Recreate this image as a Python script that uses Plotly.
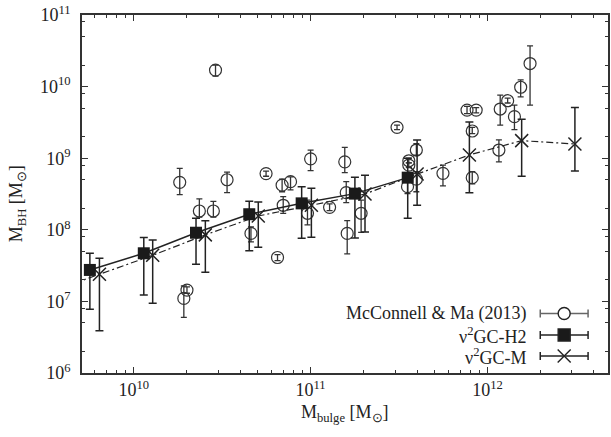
import numpy as np
import plotly.graph_objects as go

# McConnell & Ma (2013): bulge mass, BH mass, lower / upper error bounds
mm_x = [2.9e10, 1.82e10, 2.35e10, 2.82e10, 3.37e10, 5.6e10, 6.9e10, 7.7e10, 7.0e10, 1.0e11,
        9.6e10, 1.28e11, 1.92e10, 2.0e10, 4.6e10, 6.5e10, 1.56e11, 1.59e11, 1.93e11, 3.08e11,
        3.59e11, 3.59e11, 3.96e11, 3.53e11, 3.96e11, 5.6e11, 7.66e11, 8.63e11, 8.2e11, 8.2e11,
        1.16e12, 1.18e12, 1.3e12, 1.42e12, 1.54e12, 1.74e12, 1.61e11]
mm_y = [1.7e10, 4.6e8, 1.83e8, 1.83e8, 5.0e8, 6.1e8, 4.2e8, 4.7e8, 2.2e8, 9.8e8,
        1.7e8, 2.06e8, 1.1e7, 1.44e7, 8.9e7, 4.1e7, 8.9e8, 3.3e8, 1.7e8, 2.7e9,
        9.2e8, 8.0e8, 1.3e9, 4.0e8, 5.1e8, 6.15e8, 4.7e9, 4.7e9, 2.4e9, 5.35e8,
        1.3e9, 4.86e9, 6.35e9, 3.8e9, 9.8e9, 2.1e10, 8.9e7]
mm_lo = [1.4e10, 3.1e8, 1.5e8, 1.5e8, 3.3e8, 5.6e8, 3.4e8, 3.6e8, 1.7e8, 6.7e8,
         1.17e8, 1.85e8, 6.0e6, 1.3e7, 6.8e7, 3.7e7, 6.3e8, 2.4e8, 9.2e7, 2.5e9,
         8.6e8, 7.4e8, 1.1e9, 3.2e8, 3.4e8, 4.1e8, 4.2e9, 4.3e9, 2.2e9, 4.4e8,
         8.9e8, 2.9e9, 5.9e9, 2.5e9, 7.2e9, 5.5e9, 4.6e7]
mm_hi = [2.0e10, 7.2e8, 2.7e8, 2.5e8, 6.4e8, 6.6e8, 5.1e8, 5.5e8, 2.9e8, 1.3e9,
         2.6e8, 2.3e8, 1.64e7, 1.6e7, 1.1e8, 4.5e7, 1.42e9, 4.7e8, 2.6e8, 2.9e9,
         1.0e9, 8.6e8, 1.6e9, 5.0e8, 6.5e8, 8.0e8, 5.3e9, 5.1e9, 2.7e9, 6.5e8,
         1.8e9, 7.6e9, 6.9e9, 5.5e9, 1.24e10, 3.7e10, 1.34e8]

# nu^2GC-H2
h2_x = [5.65e9, 1.14e10, 2.25e10, 4.5e10, 8.9e10, 1.78e11, 3.54e11]
h2_y = [2.75e7, 4.7e7, 9.1e7, 1.65e8, 2.34e8, 3.2e8, 5.35e8]
h2_lo = [7.8e6, 1.23e7, 3.3e7, 5.1e7, 7.6e7, 7.7e7, 1.45e8]
h2_hi = [4.7e7, 7.8e7, 1.45e8, 2.5e8, 4.0e8, 5.4e8, 1.0e9]

# nu^2GC-M
m_x = [3.2e9, 6.4e9, 1.28e10, 2.54e10, 5.06e10, 1.01e11, 2.03e11, 4.0e11, 7.9e11, 1.56e12, 3.12e12]
m_y = [1.3e7, 2.4e7, 4.4e7, 8.5e7, 1.56e8, 2.2e8, 3.16e8, 6.0e8, 1.11e9, 1.76e9, 1.58e9]
m_lo = [1.3e7, 3.9e6, 9.4e6, 2.55e7, 5.7e7, 7.9e7, 9.3e7, 2.2e8, 3.3e8, 5.6e8, 6.6e8]
m_hi = [1.3e7, 4.0e7, 7.2e7, 1.34e8, 2.45e8, 3.8e8, 5.8e8, 1.8e9, 3.2e9, 3.5e9, 5.1e9]

legend_labels = ["McConnell &amp; Ma (2013)", "ν<sup>2</sup>GC-H2", "ν<sup>2</sup>GC-M"]

x_major = [1e10, 1e11, 1e12]
x_major_text = ["10<sup>10</sup>", "10<sup>11</sup>", "10<sup>12</sup>"]
y_major = [1e6, 1e7, 1e8, 1e9, 1e10, 1e11]
y_major_text = ["10<sup>6</sup>", "10<sup>7</sup>", "10<sup>8</sup>", "10<sup>9</sup>",
                "10<sup>10</sup>", "10<sup>11</sup>"]

FONT = "Liberation Serif, Times New Roman, serif"
INK = "#222222"


def err(y, lo, hi):
    y = np.array(y); lo = np.array(lo); hi = np.array(hi)
    return hi - y, y - lo


fig = go.Figure()

p, m = err(mm_y, mm_lo, mm_hi)
fig.add_trace(go.Scatter(
    x=mm_x, y=mm_y, mode="markers",
    marker=dict(symbol="circle-open", size=12, color="#333333", line=dict(width=1.2)),
    error_y=dict(type="data", symmetric=False, array=p, arrayminus=m,
                 color="#333333", thickness=1.3, width=3),
    showlegend=False))

p, m = err(m_y, m_lo, m_hi)
fig.add_trace(go.Scatter(
    x=m_x, y=m_y, mode="lines+markers",
    line=dict(color="#222222", width=1.2, dash="7px,3px,2px,3px"),
    marker=dict(symbol="x-thin-open", size=13, color="#222222", line=dict(width=1.5, color="#222222")),
    error_y=dict(type="data", symmetric=False, array=p, arrayminus=m,
                 color="#222222", thickness=1.5, width=4),
    showlegend=False))

p, m = err(h2_y, h2_lo, h2_hi)
fig.add_trace(go.Scatter(
    x=h2_x, y=h2_y, mode="lines+markers",
    line=dict(color="#222222", width=1.5),
    marker=dict(symbol="square", size=12, color="#1a1a1a"),
    error_y=dict(type="data", symmetric=False, array=p, arrayminus=m,
                 color="#222222", thickness=1.5, width=4),
    showlegend=False))

# ---- hand-drawn legend (gnuplot style: line with end caps through the symbol)
x0_px, x1_px = 82, 610
y0_px, y1_px = 15, 373
def px_x(v): return (v - x0_px) / (x1_px - x0_px)
def px_y(v): return (y1_px - v) / (y1_px - y0_px)

rows = [313.5, 335, 356]
line_cols = ["#666666", "#222222", "#222222"]
lx0, lx1, lxm, ltext = 542, 590, 566, 530
shapes = []
for r, c in zip(rows, line_cols):
    yy = px_y(r)
    shapes.append(dict(type="line", xref="paper", yref="paper", x0=px_x(lx0), x1=px_x(lx1),
                       y0=yy, y1=yy, line=dict(color=c, width=1.5), layer="below"))
    for xe in (lx0, lx1):
        shapes.append(dict(type="line", xref="paper", yref="paper", x0=px_x(xe), x1=px_x(xe),
                           y0=yy - 4 / 358, y1=yy + 4 / 358, line=dict(color=c, width=1.5)))

annotations = []
for r, t in zip(rows, legend_labels):
    annotations.append(dict(text=t, xref="paper", yref="paper", x=px_x(ltext), y=px_y(r),
                            xanchor="right", yanchor="middle", showarrow=False,
                            font=dict(family=FONT, size=18, color=INK)))

leg_syms = ["circle", "square", "x-thin-open"]
leg_fill = ["white", "#1a1a1a", "#222222"]
leg_sizes = [12, 12, 13]
for r, s, f, sz in zip(rows, leg_syms, leg_fill, leg_sizes):
    fig.add_trace(go.Scatter(
        x=[px_x(lxm)], y=[px_y(r)], xaxis="x2", yaxis="y2", mode="markers",
        marker=dict(symbol=s, size=sz, color=f, line=dict(width=1.4, color="#222222")),
        showlegend=False, hoverinfo="skip"))

# axis titles
annotations.append(dict(text="M<sub>bulge</sub> [M<sub>⊙</sub>]", xref="paper", yref="paper",
                        x=0.5, y=px_y(414), xanchor="center", yanchor="middle", showarrow=False,
                        font=dict(family=FONT, size=18, color=INK)))
annotations.append(dict(text="M<sub>BH</sub> [M<sub>⊙</sub>]", xref="paper", yref="paper",
                        x=px_x(17), y=px_y(204), xanchor="center", yanchor="middle", showarrow=False,
                        textangle=-90, font=dict(family=FONT, size=18, color=INK)))

x_minor = [k * 10 ** e for e in range(9, 13) for k in range(2, 10)]
y_minor = [k * 10 ** e for e in range(6, 11) for k in (2, 5, 8)]

axis_common = dict(showgrid=False, zeroline=False, showline=True, linecolor="#333333",
                   linewidth=1.5, mirror="allticks", ticks="inside", ticklen=6,
                   tickwidth=1, tickcolor="#333333",
                   tickfont=dict(family=FONT, size=18, color=INK))

fig.update_layout(
    width=611, height=437,
    margin=dict(l=82, r=1, t=15, b=64),
    paper_bgcolor="white", plot_bgcolor="white",
    showlegend=False,
    xaxis=dict(type="log", range=[np.log10(5.1e9), np.log10(4.8e12)],
               tickmode="array", tickvals=x_major, ticktext=x_major_text,
               minor=dict(tickmode="array", tickvals=x_minor, ticks="inside", ticklen=3,
                          tickcolor="#333333", showgrid=False),
               **axis_common),
    yaxis=dict(type="log", range=[6, 11],
               tickmode="array", tickvals=y_major, ticktext=y_major_text,
               minor=dict(tickmode="array", tickvals=y_minor, ticks="inside", ticklen=3,
                          tickcolor="#333333", showgrid=False),
               ticklabelstandoff=6,
               **axis_common),
    xaxis2=dict(overlaying="x", range=[0, 1], visible=False, fixedrange=True),
    yaxis2=dict(overlaying="y", range=[0, 1], visible=False, fixedrange=True),
    shapes=shapes,
    annotations=annotations,
)

fig.write_html("out.html")
